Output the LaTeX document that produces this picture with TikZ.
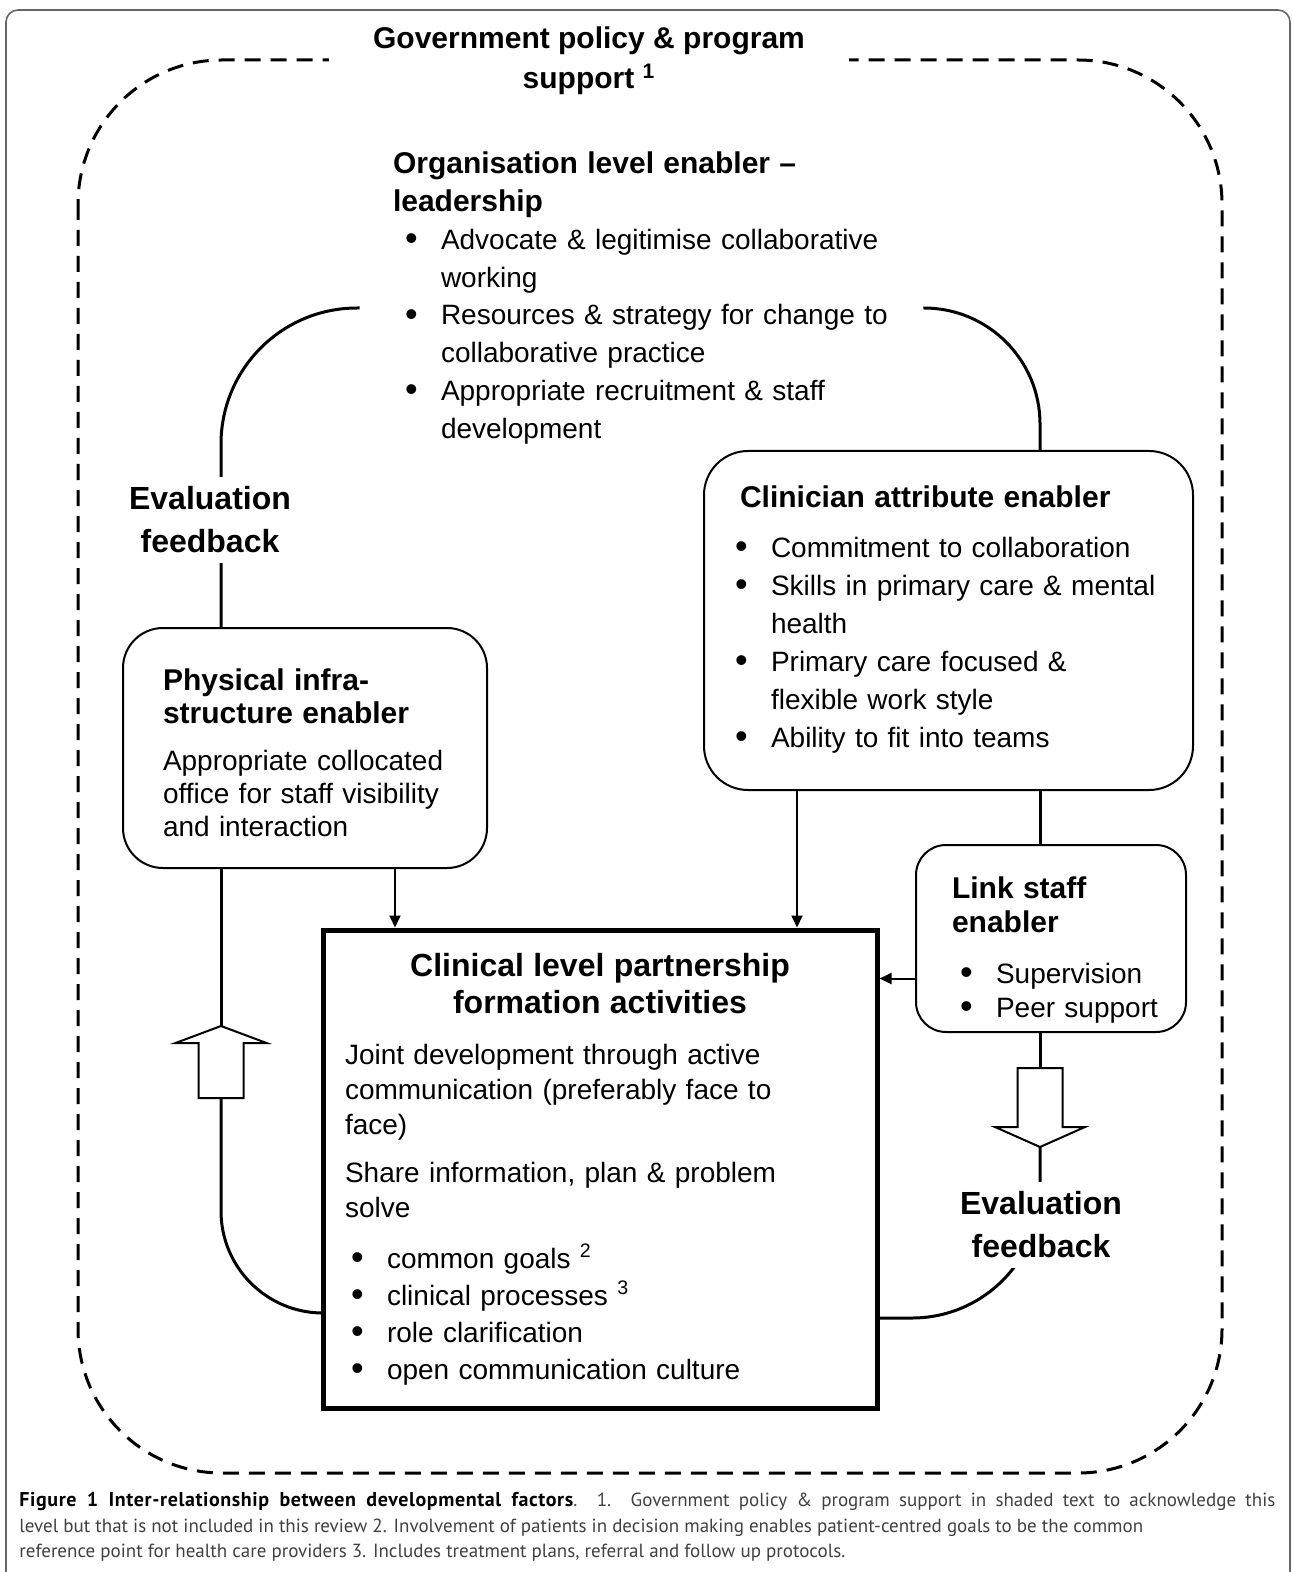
\documentclass[tikz,border=0pt]{standalone}
\usepackage{fontspec}
\setmainfont{Liberation Sans}
\newfontfamily\capfont{PT Sans}
\usetikzlibrary{arrows.meta,positioning,calc}

\newcommand{\hd}{\fontsize{15pt}{17.5pt}\selectfont\bfseries}
\newcommand{\blt}{\makebox[18pt][l]{\raisebox{-0.6pt}{\fontsize{18pt}{18pt}\selectfont\textbullet}}}
\newcommand{\bsk}{\hspace*{18pt}}

\begin{document}
\begin{tikzpicture}[x=0.5pt,y=-0.5pt,
    box/.style={draw,line width=1pt,align=left,inner ysep=0pt},
    loopline/.style={line width=1.5pt},
    arr/.style={line width=1pt,-{Triangle[length=6pt,width=5.5pt]}},
    fat/.style={line width=1pt,fill=white,line join=miter},
    evl/.style={fill=white,align=center,inner sep=5pt,font=\fontsize{16pt}{21.5pt}\selectfont\bfseries}]
  \useasboundingbox (0,0) rectangle (1293,1572);

  % page frame and outer dashed level
  \draw[black!60,line width=0.8pt,rounded corners=6pt] (6,1590) -- (6,10) -- (1290,10) -- (1290,1590);
  \draw[line width=1.5pt,dash pattern=on 8pt off 5pt,rounded corners=72pt] (78,60) rectangle (1222,1473);
  \node[fill=white,align=center,minimum width=260pt,inner ysep=2pt,
        font=\fontsize{15pt}{20pt}\selectfont\bfseries] (gov) at (589,61)
        {Government policy \& program\\support \textsuperscript{1}};

  % organisation level
  \node[align=left,text width=248.5pt,inner xsep=16.5pt,inner ysep=0pt,
        font=\fontsize{14pt}{18.9pt}\selectfont] (org) at (641.5,298) {%
    {\hd Organisation level enabler –}\\
    {\hd leadership}\\
    \hspace*{6pt}\blt Advocate \& legitimise collaborative\\
    \hspace*{6pt}\bsk working\\
    \hspace*{6pt}\blt Resources \& strategy for change to\\
    \hspace*{6pt}\bsk collaborative practice\\
    \hspace*{6pt}\blt Appropriate recruitment \& staff\\
    \hspace*{6pt}\bsk development};

  % boxes
  \node[box,rounded corners=22pt,text width=213.5pt,inner xsep=15.5pt,minimum height=169.5pt,
        font=\fontsize{14pt}{19pt}\selectfont] (attr) at (948.5,620.5) {%
    \hspace*{2.5pt}{\hd Clinician attribute enabler}\\[6pt]
    \blt Commitment to collaboration\\
    \blt Skills in primary care \& mental\\
    \bsk health\\
    \blt Primary care focused \&\\
    \bsk flexible work style\\
    \blt Ability to fit into teams\rule[-4pt]{0pt}{0pt}};

  \node[box,rounded corners=20pt,text width=142pt,inner xsep=20pt,minimum height=120pt,
        font=\fontsize{14pt}{16.5pt}\selectfont] (phys) at (305,748) {%
    {\hd\rule{0pt}{16pt}Physical infra-}\\
    {\hd structure enabler}\\[7pt]
    Appropriate collocated\\
    office for staff visibility\\
    and interaction};

  \node[box,rounded corners=15pt,text width=99pt,inner xsep=18pt,minimum height=93.5pt,
        font=\fontsize{14pt}{17pt}\selectfont] (link) at (1051,938.5) {%
    {\hd\rule{0pt}{22pt}Link staff}\\
    {\hd enabler}\\[8.5pt]
    \mbox{\hspace*{4pt}\blt Supervision}\\
    \mbox{\hspace*{4pt}\blt Peer support}};

  \node[box,line width=2.5pt,text width=255pt,inner xsep=11pt,minimum height=239pt,
        font=\fontsize{14pt}{17.5pt}\selectfont] (part) at (600,1169) {%
    \makebox[255pt][c]{\fontsize{16pt}{18.5pt}\selectfont\bfseries Clinical level partnership}\\[1pt]
    \makebox[255pt][c]{\fontsize{16pt}{18.5pt}\selectfont\bfseries formation activities}\\[8pt]
    Joint development through active\\
    communication (preferably face to\\
    face)\\[6.5pt]
    Share information, plan \& problem\\
    solve\\[8pt]
    \hspace*{3pt}\blt common goals \textsuperscript{2}\\[1pt]
    \hspace*{3pt}\blt clinical processes \textsuperscript{3}\\[1pt]
    \hspace*{3pt}\blt role clarification\\[1pt]
    \hspace*{3pt}\blt open communication culture};

  % hollow arrows
  \coordinate (upT) at (221,1026);
  \coordinate (upB) at (221,1098);
  \coordinate (dnT) at (1040,1068);
  \coordinate (dnB) at (1040,1147);

  % loops
  \draw[loopline,rounded corners=68pt] ([yshift=-5pt]org.west) -| ([xshift=-42pt]phys.north);
  \draw[loopline] ([xshift=-42pt]phys.south) -- (upT);
  \draw[loopline,rounded corners=51pt] (upB) |- ([yshift=-72pt]part.west);
  \draw[loopline,rounded corners=58pt] ([yshift=-5pt]org.east) -| ([xshift=45.75pt]attr.north);
  \draw[loopline] ([xshift=45.75pt]attr.south) -- ([xshift=45.75pt]attr.south |- link.north);
  \draw[loopline] (link.south -| dnT) -- (dnT);
  \draw[loopline,rounded corners=64pt] (dnB) |- ([yshift=-74.5pt]part.east);

  \draw[fat] (upT) -- ++(45.5,17) -- ++(-23,0) -- ++(0,55) -- ++(-45,0) -- ++(0,-55) -- ++(-23,0) -- cycle;
  \draw[fat] (dnB) -- ++(45,-20) -- ++(-22.5,0) -- ++(0,-59) -- ++(-45,0) -- ++(0,59) -- ++(-22.5,0) -- cycle;

  % arrows into the clinical level
  \draw[arr] ([xshift=45pt]phys.south) -- ([xshift=45pt]phys.south |- part.north);
  \draw[arr] ([xshift=-75.75pt]attr.south) -- ([xshift=-75.75pt]attr.south |- part.north);
  \draw[arr] ([yshift=-20pt]link.west) -- ([yshift=-20pt]link.west -| part.east);

  \node[evl] (evL) at (210,520) {Evaluation\\feedback};
  \node[evl] (evR) at (1041,1225) {Evaluation\\feedback};

  % caption
  \node[anchor=north west,inner sep=0pt,text width=628pt,align=justify,text=black!75,
        font=\capfont\fontsize{9.5pt}{12.75pt}\selectfont] (cap) at (19,1492) {%
    {\color{black}\fontsize{10pt}{12.75pt}\selectfont\addfontfeatures{LetterSpace=3}\bfseries Figure 1 Inter-relationship between developmental factors}. 1. Government policy \& program support in shaded text to acknowledge this\linebreak
    level but that is not included in this review 2. Involvement of patients in decision making enables patient-centred goals to be the common\newline
    reference point for health care providers 3. Includes treatment plans, referral and follow up protocols.};
\end{tikzpicture}
\end{document}
